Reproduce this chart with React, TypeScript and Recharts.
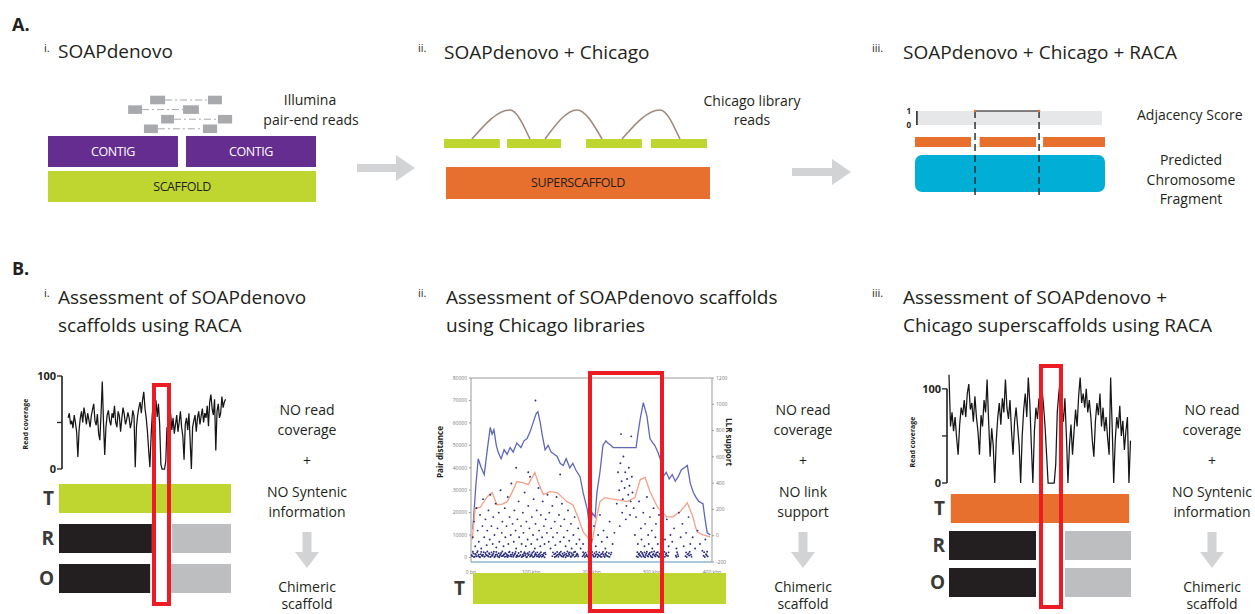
import React from "react";
import {
  Bar,
  BarChart,
  Cell,
  ComposedChart,
  Line,
  LineChart,
  ReferenceArea,
  ReferenceLine,
  Scatter,
  XAxis,
  YAxis,
} from "recharts";

const FONT = '"Open Sans", "Noto Sans", sans-serif';
const INK = "#231f20";
const PURPLE = "#662d91";
const LIME = "#bfd630";
const ORANGE = "#e8702f";
const CYAN = "#00aed6";
const BLACK_BAR = "#231f20";
const GREY_BAR = "#bcbec0";
const READ_GREY = "#a7a9ac";
const ARROW = "#d1d3d4";
const RED = "#ed1c24";
const NAVY = "#2b2e7a";

// ---------- A.i  SOAPdenovo (positions in % of scaffold length) ----------
const contigsA1: [number, number][] = [
  [0, 48.5],
  [51.5, 100],
];
const readPairsA1 = [
  { lane: 1, left: [38.1, 43.7], right: [59.7, 64.9] },
  { lane: 2, left: [29.9, 35.1], right: [50.4, 56.3] },
  { lane: 3, left: [42.2, 47.0], right: [63.4, 68.7] },
  { lane: 4, left: [35.8, 41.0], right: [57.8, 63.1] },
];

// ---------- A.ii  SOAPdenovo + Chicago ----------
const scaffoldsA2: [number, number][] = [
  [0, 21],
  [23.7, 44],
  [53.4, 74.4],
  [77.8, 98.9],
];
const superscaffoldA2: [number, number] = [0.75, 100];
const chicagoLinksA2 = [
  { from: 10.5, peak: 24.8, to: 32.3 },
  { from: 38.0, peak: 50.0, to: 59.4 },
  { from: 66.9, peak: 81.2, to: 88.7 },
];

// ---------- A.iii  SOAPdenovo + Chicago + RACA ----------
const breaksA3 = [31.6, 65.3];
const segmentsA3: [number, number][] = [
  [0, 29.5],
  [34, 63.7],
  [67.4, 100],
];
const adjacencyA3 = [
  { x: 31.6, y: 1 },
  { x: 65.3, y: 1 },
];

// ---------- B.i  read coverage along a SOAPdenovo scaffold ----------
const coverageB1 = [
  55, 60, 48, 52, 44, 58, 50, 40, 13,
  42, 55, 62, 50, 66, 58, 48, 60, 53, 45, 57, 64, 70, 52, 47, 59, 38,
  31, 60, 94,
  50, 15, 45,
  58, 63, 52, 47, 60, 55, 68, 50, 45, 62, 57, 40, 54, 66, 59, 48, 53, 61, 55, 44, 50, 63, 57,
  2,
  45, 58, 66, 72, 60, 74, 83, 65, 55,
  40, 20, 2, 35,
  60, 68, 62, 74, 56, 70, 48,
  5, 0, 0, 0, 8,
  45, 30, 52, 60, 42, 55, 38, 48, 58, 40, 50, 62, 45, 35, 10,
  48, 55, 42, 60, 30, 0,
  45, 52, 58, 40, 55, 62, 48, 57, 65, 50, 60, 55, 68, 46,
  72, 80, 65, 58, 75, 20, 62, 70, 55, 60, 78, 66, 72, 75,
];
const tracksB1 = [
  { track: "T", lead: 0, first: 100, gap: 0, second: 0 },
  { track: "R", lead: 0, first: 54, gap: 11.7, second: 34.3 },
  { track: "O", lead: 0, first: 53, gap: 12, second: 35 },
];

// ---------- B.ii  Chicago link support (x in kbp) ----------
const pairDistanceB2: [number, number][] = [
  [3, 12500], [8, 32000], [12, 44000], [17, 40000], [22, 37000], [27, 48000],
  [32, 58000], [35, 55000], [38, 57000], [42, 50000], [45, 47000], [50, 44000],
  [55, 48000], [60, 46000], [65, 49000], [70, 47000], [76, 51000], [83, 49000],
  [88, 52000], [93, 53000], [98, 56000], [103, 60000], [108, 64000], [111, 65000],
  [115, 60000], [118, 55000], [123, 48000], [128, 50000], [133, 47000], [138, 46000],
  [143, 45000], [148, 42000], [153, 41000], [158, 44000], [164, 40000], [169, 42000],
  [174, 39000], [181, 36000], [186, 29000], [193, 21500], [198, 10800], [201, 20000],
  [206, 18000], [209, 29000], [214, 38000], [219, 50000], [224, 52000], [227, 51000],
  [232, 50000], [236, 49000], [244, 49000], [254, 49000], [264, 49000], [274, 49000],
  [277, 55000], [281, 62000], [286, 69000], [289, 66000], [292, 63000], [297, 53000],
  [302, 51000], [305, 50000], [310, 47000], [314, 44000], [319, 36000], [324, 38000],
  [329, 35000], [334, 37000], [339, 34000], [344, 36000], [349, 39000], [354, 40000],
  [359, 41000], [364, 33000], [369, 29000], [373, 27000], [378, 25000], [385, 24000],
  [388, 18000], [392, 11000], [397, 10000],
];
const llrSupportB2: [number, number][] = [
  [2, -30], [7, 213], [15, 213], [20, 250], [27, 297], [35, 328], [43, 236],
  [52, 240], [60, 259], [68, 328], [76, 412], [86, 404], [95, 389], [101, 440],
  [106, 481], [111, 412], [120, 313], [131, 336], [143, 328], [152, 290],
  [159, 259], [169, 236], [178, 137], [186, 30], [194, -16], [201, -47],
  [206, 83], [214, 259], [222, 290], [232, 280], [242, 274], [259, 259],
  [272, 290], [281, 427], [289, 443], [297, 336], [310, 213], [325, 144],
  [335, 144], [347, 183], [359, 251], [367, 160], [375, 30], [385, 7], [397, -8],
];
const pairDotsB2: [number, number][] = [
  // near-zero band
  [2, 600], [4, 1800], [6, 400], [8, 1200], [10, 2200], [12, 700], [14, 300], [16, 1500],
  [18, 900], [21, 2400], [23, 500], [25, 1300], [28, 800], [30, 1900], [33, 400], [35, 1100],
  [38, 2600], [40, 600], [43, 1400], [45, 300], [48, 900], [50, 2000], [53, 700], [55, 1500],
  [58, 400], [60, 1000], [63, 2300], [65, 600], [68, 1200], [70, 300], [73, 1700], [76, 800],
  [78, 400], [82, 1100], [85, 500], [88, 1800], [90, 900], [93, 300], [96, 1400], [99, 700],
  [102, 2100], [105, 400], [108, 1200], [111, 600], [114, 1700], [117, 300], [120, 1000],
  [123, 2200], [135, 600], [138, 1500], [141, 400], [144, 1100], [147, 2000], [150, 700],
  [153, 300], [156, 1300], [159, 800], [162, 1900], [165, 500], [168, 1000], [171, 2400],
  [174, 600], [177, 1200], [185, 500], [188, 1600], [191, 800], [194, 300], [197, 1200],
  [200, 2100], [203, 700], [206, 400], [209, 1500], [212, 900], [215, 300], [218, 1800],
  [221, 600], [224, 1100], [228, 400], [232, 1300], [275, 500], [278, 1400], [281, 800],
  [284, 2000], [287, 400], [290, 1100], [293, 700], [296, 1700], [299, 300], [302, 1200],
  [305, 900], [308, 2200], [311, 500], [314, 1000], [317, 1600], [320, 400], [323, 1300],
  [327, 700], [340, 800], [343, 1500], [356, 600], [359, 1400], [362, 900], [366, 300],
  [386, 800], [390, 1500], [393, 500],
  [1, 1000], [3, 2600], [5, 200], [7, 1600], [9, 500], [11, 2800], [13, 1300], [15, 100],
  [17, 2500], [19, 700], [20, 1200], [22, 300], [24, 2000], [26, 1000], [27, 2700], [29, 400],
  [31, 1500], [32, 200], [34, 2300], [36, 800], [37, 1700], [39, 150], [41, 1200], [42, 2500],
  [44, 700], [46, 1900], [47, 100], [49, 1400], [51, 600], [52, 2700], [54, 1100], [56, 300],
  [57, 2000], [59, 1500], [61, 200], [62, 900], [64, 2600], [66, 1300], [67, 400], [69, 2100],
  [71, 800], [72, 1400], [74, 2500], [75, 200], [77, 1000], [79, 2000], [80, 600], [83, 2600],
  [84, 200], [86, 1300], [87, 700], [89, 2400], [91, 1600], [92, 100], [94, 1900], [95, 1100],
  [97, 2500], [98, 400], [100, 1500], [101, 900], [103, 200], [104, 2700], [106, 1100],
  [107, 1900], [109, 500], [110, 2300], [112, 1200], [113, 200], [115, 800], [116, 2400],
  [118, 1300], [119, 600], [121, 1900], [122, 150], [124, 1400], [136, 2300], [139, 200],
  [140, 1800], [142, 900], [143, 2500], [145, 300], [146, 1500], [148, 1100], [149, 2600],
  [151, 500], [152, 1700], [154, 900], [155, 2200], [157, 150], [158, 1600], [160, 2700],
  [161, 700], [163, 1200], [164, 2300], [166, 200], [167, 1900], [169, 900], [170, 1400],
  [172, 300], [173, 2600], [175, 1100], [176, 1700], [178, 500], [186, 2400], [187, 1000],
  [189, 200], [190, 2200], [192, 1400], [193, 600], [195, 2600], [196, 1800], [198, 100],
  [199, 900], [201, 2500], [202, 1300], [204, 300], [205, 1900], [207, 1100], [208, 2600],
  [210, 200], [211, 1400], [213, 2300], [214, 800], [216, 1500], [217, 300], [219, 2500],
  [220, 1200], [222, 200], [223, 1700], [225, 2400], [226, 700], [229, 1900], [230, 300],
  [233, 2200], [276, 2400], [277, 200], [279, 1800], [280, 1000], [282, 2600], [283, 300],
  [285, 1500], [286, 900], [288, 2300], [289, 100], [291, 1800], [292, 2600], [294, 400],
  [295, 1400], [297, 2200], [298, 800], [300, 2500], [301, 100], [303, 1600], [304, 2700],
  [306, 400], [307, 1500], [309, 900], [310, 2400], [312, 200], [313, 1700], [315, 2600],
  [316, 700], [318, 2000], [319, 1100], [321, 2500], [322, 300], [324, 1900], [325, 900],
  [328, 2300], [341, 200], [342, 2400], [344, 600], [357, 2300], [358, 200], [361, 1800],
  [363, 2600], [365, 1200], [387, 2400], [388, 200], [391, 1000], [392, 2600],
  // first block
  [3, 9000], [5, 16000], [7, 5000], [9, 22000], [11, 12000], [13, 7000], [15, 19000],
  [17, 4000], [19, 14000], [20, 26000], [22, 9000], [24, 17000], [26, 5500], [27, 12000],
  [29, 21000], [31, 8000], [32, 28000], [34, 14000], [36, 6000], [37, 18000], [39, 10000],
  [41, 24000], [42, 4500], [44, 13000], [46, 20000], [47, 7000], [49, 30000], [51, 11000],
  [52, 16000], [54, 5000], [56, 22000], [57, 9000], [59, 14000], [61, 27000], [62, 6000],
  [64, 18000], [66, 10000], [67, 33000], [69, 15000], [71, 7000], [72, 21000], [74, 12000],
  [75, 4000], [77, 17000], [79, 25000], [80, 9000], [83, 14000], [84, 6000], [86, 20000],
  [87, 11000], [89, 29000], [91, 5000], [92, 16000], [94, 8000], [95, 23000], [97, 13000],
  [98, 36000], [100, 6000], [101, 18000], [103, 10000], [104, 26000], [106, 4000],
  [107, 15000], [109, 21000], [110, 8000], [112, 31000], [113, 12000], [115, 5000],
  [116, 19000], [118, 9000], [119, 25000], [121, 14000], [122, 6000], [124, 17000],
  [126, 11000], [127, 28000], [129, 7000], [130, 20000], [132, 4000], [133, 13000],
  [135, 23000], [136, 9000], [139, 16000], [140, 5500], [142, 27000], [143, 11000],
  [146, 19000], [148, 7000], [149, 14000], [151, 24000], [154, 9000], [155, 17000],
  [157, 5000], [160, 12000], [161, 21000], [163, 7500], [166, 15000], [167, 4000],
  [170, 10000], [172, 18000], [175, 6000], [178, 13000], [180, 8000], [182, 4000],
  [186, 6000], [107, 70000], [75, 40000], [95, 38000], [148, 37000],
  // second block
  [249, 55000], [266, 54000], [244, 38000], [246, 30000], [248, 42000], [250, 34000],
  [252, 26000], [253, 45000], [255, 31000], [256, 38000], [258, 23000], [259, 35000],
  [261, 28000], [262, 40000], [263, 32000], [265, 25000], [267, 36000], [268, 29000],
  [270, 22000], [251, 20000], [257, 17000], [264, 19000], [242, 24000], [247, 14000],
  [200, 8000], [204, 14000], [207, 5000], [211, 10000], [214, 19000], [217, 7000],
  [220, 12000], [223, 4000], [226, 9000], [230, 16000], [235, 6000], [238, 11000],
  // third block
  [272, 10000], [274, 18000], [277, 6000], [279, 25000], [282, 13000], [283, 8000],
  [286, 20000], [288, 5000], [289, 15000], [292, 27000], [294, 10000], [295, 6000],
  [297, 18000], [300, 12000], [301, 4000], [303, 22000], [306, 9000], [307, 15000],
  [310, 6000], [312, 19000], [315, 11000], [316, 4500], [319, 14000], [322, 8000],
  [325, 17000], [328, 5000], [331, 10000],
  // tail
  [334, 7000], [337, 13000], [341, 4000], [345, 20000], [348, 9000], [351, 15000],
  [353, 5000], [357, 11000], [361, 18000], [364, 6000], [368, 9000], [372, 4000],
  [376, 12000], [380, 6000], [384, 3000], [389, 8000],
];
const distTicksB2 = [0, 10000, 20000, 30000, 40000, 50000, 60000, 70000, 80000];
const llrTicksB2 = [-200, 0, 200, 400, 600, 800, 1000, 1200];
const posTicksB2 = [0, 100, 200, 300, 400];
const tracksB2 = [{ track: "T", lead: 0, first: 100, gap: 0, second: 0 }];

// ---------- B.iii  read coverage along a superscaffold ----------
const coverageB3 = [
  115, 60, 75, 55, 70, 48, 30, 62, 80, 72, 88, 70, 95, 105, 78, 85, 65, 92, 70, 55,
  30, 72, 60, 88, 75, 110, 65, 28, 58, 40, 0, 45, 70, 85, 62, 90, 75, 110, 80, 68,
  88, 55, 30, 65, 80, 60, 40, 0, 50, 78, 95, 70, 112, 85, 40, 0, 55, 80, 68, 90,
  75, 100, 82, 60, 30, 0, 0, 0, 0, 0, 20, 75, 95, 110, 80, 65, 90, 50, 0, 40,
  62, 30, 55, 78, 60, 92, 112, 85, 95, 80, 100, 75, 88, 70, 45, 28, 65, 85, 72, 95,
  60, 80, 55, 70, 48, 30, 112, 60, 0, 45, 70, 58, 82, 50, 66, 35, 55, 70, 0, 45,
];
const tracksB3 = [
  { track: "T", lead: 1, first: 98, gap: 0, second: 0 },
  { track: "R", lead: 0, first: 47.8, gap: 15.9, second: 36.3 },
  { track: "O", lead: 0, first: 47.8, gap: 15.9, second: 36.3 },
];

const verdicts = [
  { cx: 307, evidence: ["NO read", "coverage", "+", "NO Syntenic", "information"] },
  { cx: 803, evidence: ["NO read", "coverage", "+", "NO link", "support"] },
  { cx: 1212, evidence: ["NO read", "coverage", "+", "NO Syntenic", "information"] },
];
const EVIDENCE_Y = [410, 430, 461, 492, 512];

type TxtProps = {
  x: number;
  y: number;
  size?: number;
  weight?: number;
  anchor?: "start" | "middle";
  rotate?: number;
  color?: string;
  children: React.ReactNode;
};

function Txt({ x, y, size = 14, weight = 400, anchor = "start", rotate = 0, color = INK, children }: TxtProps) {
  const tx = anchor === "middle" || rotate !== 0 ? "-50%" : "0";
  return (
    <div
      style={{
        position: "absolute",
        left: x,
        top: y,
        transform: `translate(${tx}, -50%) rotate(${rotate}deg)`,
        fontSize: size,
        fontWeight: weight,
        color,
        lineHeight: 1,
        whiteSpace: "nowrap",
      }}
    >
      {children}
    </div>
  );
}

function HArrow({ x, y, len }: { x: number; y: number; len: number }) {
  return (
    <svg style={{ position: "absolute", left: x, top: y - 14 }} width={len} height={28}>
      <rect x={0} y={10} width={len - 17} height={8} fill={ARROW} />
      <polygon points={`${len - 19},1 ${len},14 ${len - 19},27`} fill={ARROW} />
    </svg>
  );
}

function DownArrow({ cx, top }: { cx: number; top: number }) {
  return (
    <svg style={{ position: "absolute", left: cx - 12, top }} width={24} height={37}>
      <rect x={7.5} y={0} width={9} height={22} fill={ARROW} />
      <polygon points="0,20 24,20 12,36" fill={ARROW} />
    </svg>
  );
}

function RedBox({ left, top, width, height }: { left: number; top: number; width: number; height: number }) {
  return (
    <div
      style={{
        position: "absolute",
        left,
        top,
        width,
        height,
        border: `4px solid ${RED}`,
        boxSizing: "border-box",
      }}
    />
  );
}

const blockLabel = (value: string, fill: string) => ({
  value,
  position: "center" as const,
  fill,
  fontSize: 12.5,
  letterSpacing: -0.4,
});

function PanelA1() {
  const laneY = (lane: number) => 114.6 - lane * 9.6;
  return (
    <div style={{ position: "absolute", left: 48, top: 95 }}>
      <ComposedChart width={268} height={110} margin={{ top: 0, right: 0, bottom: 0, left: 0 }}>
        <XAxis type="number" dataKey="x" domain={[0, 100]} hide />
        <YAxis type="number" dataKey="y" domain={[0, 110]} hide />
        <ReferenceArea x1={0} x2={100} y1={3} y2={34} fill={LIME} fillOpacity={1} label={blockLabel("SCAFFOLD", INK)} />
        {contigsA1.map(([a, b], k) => (
          <ReferenceArea key={`c${k}`} x1={a} x2={b} y1={38} y2={69} fill={PURPLE} fillOpacity={1} label={blockLabel("CONTIG", "#ffffff")} />
        ))}
        {readPairsA1.map((p, k) => (
          <ReferenceArea key={`l${k}`} x1={p.left[0]} x2={p.left[1]} y1={laneY(p.lane) - 4.3} y2={laneY(p.lane) + 4.3} fill={READ_GREY} fillOpacity={1} />
        ))}
        {readPairsA1.map((p, k) => (
          <ReferenceArea key={`r${k}`} x1={p.right[0]} x2={p.right[1]} y1={laneY(p.lane) - 4.3} y2={laneY(p.lane) + 4.3} fill={READ_GREY} fillOpacity={1} />
        ))}
        {readPairsA1.map((p, k) => (
          <Line
            key={`j${k}`}
            data={[
              { x: p.left[1], y: laneY(p.lane) },
              { x: p.right[0], y: laneY(p.lane) },
            ]}
            dataKey="y"
            stroke={READ_GREY}
            strokeWidth={1}
            strokeDasharray="7 3 2 3"
            dot={false}
            isAnimationActive={false}
          />
        ))}
      </ComposedChart>
    </div>
  );
}

function PanelA2() {
  return (
    <div style={{ position: "absolute", left: 444, top: 100 }}>
      <ComposedChart width={266} height={105} margin={{ top: 0, right: 0, bottom: 0, left: 0 }}>
        <XAxis type="number" dataKey="x" domain={[0, 100]} hide />
        <YAxis type="number" dataKey="y" domain={[0, 105]} hide />
        <ReferenceArea
          x1={superscaffoldA2[0]}
          x2={superscaffoldA2[1]}
          y1={6}
          y2={38}
          fill={ORANGE}
          fillOpacity={1}
          label={blockLabel("SUPERSCAFFOLD", INK)}
        />
        {scaffoldsA2.map(([a, b], k) => (
          <ReferenceArea key={`s${k}`} x1={a} x2={b} y1={57} y2={66} fill={LIME} fillOpacity={1} />
        ))}
        {chicagoLinksA2.map((l, k) => (
          <Line
            key={`a${k}`}
            data={[
              { x: l.from, y: 66 },
              { x: l.peak, y: 95 },
              { x: l.to, y: 66 },
            ]}
            dataKey="y"
            type="monotone"
            stroke="#a08a7e"
            strokeWidth={1.6}
            dot={false}
            isAnimationActive={false}
          />
        ))}
      </ComposedChart>
    </div>
  );
}

function PanelA3() {
  return (
    <div style={{ position: "absolute", left: 895, top: 100 }}>
      <ComposedChart width={215} height={100} margin={{ top: 0, right: 5, bottom: 0, left: 8 }}>
        <XAxis type="number" dataKey="x" domain={[0, 100]} hide />
        <YAxis yAxisId="trk" type="number" dataKey="y" domain={[0, 100]} hide />
        <YAxis
          yAxisId="score"
          type="number"
          dataKey="y"
          domain={[-5.357, 1.786]}
          ticks={[0, 1]}
          interval={0}
          width={12}
          axisLine={false}
          tickLine={false}
          tickSize={0}
          tickMargin={4}
          tick={{ fontSize: 8, fontWeight: 700, fill: INK }}
        />
        <ReferenceArea yAxisId="trk" x1={0.5} x2={98.4} y1={75} y2={89} fill="#e6e7e8" fillOpacity={1} />
        {segmentsA3.map(([a, b], k) => (
          <ReferenceArea key={`o${k}`} yAxisId="trk" x1={a} x2={b} y1={53} y2={63} fill={ORANGE} fillOpacity={1} />
        ))}
        <ReferenceArea
          yAxisId="trk"
          x1={0}
          x2={100}
          y1={8}
          y2={45}
          fill={CYAN}
          fillOpacity={1}
          shape={(p: any) => <rect x={p.x} y={p.y} width={p.width} height={p.height} rx={7} fill={CYAN} />}
        />
        <ReferenceLine
          yAxisId="score"
          segment={[
            { x: 1, y: 0 },
            { x: 1, y: 1 },
          ]}
          stroke={INK}
          strokeWidth={1.5}
        />
        {breaksA3.map((b, k) => (
          <Line
            key={`b${k}`}
            yAxisId="trk"
            data={[
              { x: b, y: 89 },
              { x: b, y: 2 },
            ]}
            dataKey="y"
            type="linear"
            stroke="#333333"
            strokeWidth={1.5}
            strokeDasharray="7 4"
            dot={false}
            isAnimationActive={false}
          />
        ))}
        <Line
          yAxisId="score"
          data={adjacencyA3}
          dataKey="y"
          stroke="#58595b"
          strokeWidth={1.5}
          dot={{ r: 1.3, fill: ORANGE, stroke: "none" }}
          isAnimationActive={false}
        />
      </ComposedChart>
    </div>
  );
}

type CoverageProps = {
  values: number[];
  left: number;
  top: number;
  width: number;
  height: number;
  axisWidth: number;
  xDomain: [number, number];
  yMax: number;
};

function CoverageChart({ values, left, top, width, height, axisWidth, xDomain, yMax }: CoverageProps) {
  const rows = values.map((v, i) => ({ i, v }));
  return (
    <div style={{ position: "absolute", left, top }}>
      <LineChart width={width} height={height} data={rows} margin={{ top: 10, right: 0, bottom: 12, left: 22 }}>
        <XAxis type="number" dataKey="i" domain={xDomain} hide />
        <YAxis
          type="number"
          domain={[0, yMax]}
          ticks={[0, 50, 100]}
          interval={0}
          width={axisWidth}
          axisLine={false}
          tickLine={{ stroke: INK, strokeWidth: 1.3 }}
          tickSize={5}
          tickMargin={1}
          tick={(p: any) =>
            p.payload.value === 50 ? (
              <g />
            ) : (
              <text x={p.x} y={p.y} dy="0.36em" textAnchor="end" fontSize={11} fontWeight={700} fill={INK}>
                {p.payload.value}
              </text>
            )
          }
        />
        <ReferenceLine
          segment={[
            { x: xDomain[0], y: 0 },
            { x: xDomain[0], y: 100 },
          ]}
          stroke={INK}
          strokeWidth={1.6}
        />
        <Line dataKey="v" type="linear" stroke="#161616" strokeWidth={1.25} dot={false} isAnimationActive={false} />
      </LineChart>
    </div>
  );
}

type TrackRow = { track: string; lead: number; first: number; gap: number; second: number };
type TrackProps = {
  rows: TrackRow[];
  tColor: string;
  left: number;
  top: number;
  width: number;
  height: number;
  axisWidth: number;
  barSize: number;
  gap: number;
};

function TrackChart({ rows, tColor, left, top, width, height, axisWidth, barSize, gap }: TrackProps) {
  return (
    <div style={{ position: "absolute", left, top }}>
      <BarChart layout="vertical" width={width} height={height} data={rows} margin={{ top: 0, right: 0, bottom: 0, left: 0 }}>
        <XAxis type="number" domain={[0, 100]} hide />
        <YAxis
          type="category"
          dataKey="track"
          width={axisWidth}
          axisLine={false}
          tickLine={false}
          tickSize={0}
          tickMargin={0}
          tick={(p: any) => (
            <text x={p.x - gap} y={p.y} dy="0.36em" textAnchor="end" fontSize={19} fontWeight={700} fill="#3a3a3a">
              {p.payload.value}
            </text>
          )}
        />
        <Bar dataKey="lead" stackId="t" fill="transparent" barSize={barSize} isAnimationActive={false} />
        <Bar dataKey="first" stackId="t" barSize={barSize} isAnimationActive={false}>
          {rows.map((r) => (
            <Cell key={r.track} fill={r.track === "T" ? tColor : BLACK_BAR} />
          ))}
        </Bar>
        <Bar dataKey="gap" stackId="t" fill="transparent" barSize={barSize} isAnimationActive={false} />
        <Bar dataKey="second" stackId="t" fill={GREY_BAR} barSize={barSize} isAnimationActive={false} />
      </BarChart>
    </div>
  );
}

function LinkChart() {
  const toRows = (pts: [number, number][]) => pts.map(([x, y]) => ({ x, y }));
  const frame = "#9a9a9a";
  const tick = { fontSize: 5, fill: "#777777" };
  return (
    <div style={{ position: "absolute", left: 430, top: 368 }}>
      <ComposedChart width={320} height={210} margin={{ top: 10, right: 16, bottom: 4, left: 11 }}>
        <XAxis
          type="number"
          dataKey="x"
          domain={[0, 400]}
          ticks={posTicksB2}
          interval={0}
          height={12}
          axisLine={{ stroke: "#a9c8e2", strokeWidth: 2.2 }}
          tickLine={false}
          tickMargin={2}
          tick={tick}
          tickFormatter={(v: number) => (v === 0 ? "0 bp" : `${v} kbp`)}
        />
        <YAxis
          yAxisId="dist"
          type="number"
          dataKey="y"
          domain={[-2000, 80000]}
          ticks={distTicksB2}
          interval={0}
          width={30}
          axisLine={{ stroke: frame }}
          tickLine={{ stroke: frame }}
          tickSize={2}
          tickMargin={2}
          tick={tick}
        />
        <YAxis
          yAxisId="llr"
          orientation="right"
          type="number"
          dataKey="y"
          domain={[-200, 1200]}
          ticks={llrTicksB2}
          interval={0}
          width={22}
          axisLine={{ stroke: frame }}
          tickLine={{ stroke: frame }}
          tickSize={2}
          tickMargin={2}
          tick={tick}
        />
        <ReferenceLine yAxisId="dist" y={80000} stroke={frame} />
        <Scatter
          yAxisId="dist"
          data={toRows(pairDotsB2)}
          dataKey="y"
          isAnimationActive={false}
          shape={(p: any) => <circle cx={p.cx} cy={p.cy} r={0.95} fill={NAVY} />}
        />
        <Line
          yAxisId="dist"
          data={toRows(pairDistanceB2)}
          dataKey="y"
          type="linear"
          stroke="#5f67b9"
          strokeWidth={1.3}
          dot={false}
          isAnimationActive={false}
        />
        <Line
          yAxisId="llr"
          data={toRows(llrSupportB2)}
          dataKey="y"
          type="linear"
          stroke="#f3a088"
          strokeWidth={1.3}
          dot={false}
          isAnimationActive={false}
        />
      </ComposedChart>
    </div>
  );
}

export default function App() {
  return (
    <div
      style={{
        position: "fixed",
        left: 0,
        top: 0,
        width: 1255,
        height: 614,
        background: "#ffffff",
        overflow: "hidden",
        fontFamily: FONT,
        color: INK,
      }}
    >
      {/* ---------------- A ---------------- */}
      <Txt x={12} y={24} size={18} weight={700}>A.</Txt>
      <Txt x={44} y={47} size={11}>i.</Txt>
      <Txt x={58} y={51} size={19}>SOAPdenovo</Txt>
      <Txt x={418} y={47} size={11}>ii.</Txt>
      <Txt x={444} y={52} size={19}>SOAPdenovo + Chicago</Txt>
      <Txt x={872} y={47} size={11}>iii.</Txt>
      <Txt x={903} y={52} size={19}>SOAPdenovo + Chicago + RACA</Txt>

      <Txt x={310} y={100} size={14} anchor="middle">Illumina</Txt>
      <Txt x={311} y={120} size={14} anchor="middle">pair-end reads</Txt>
      <Txt x={752} y={101} size={14} anchor="middle">Chicago library</Txt>
      <Txt x={752} y={120} size={14} anchor="middle">reads</Txt>
      <Txt x={1137} y={115} size={14}>Adjacency Score</Txt>
      <Txt x={1191} y={160} size={14} anchor="middle">Predicted</Txt>
      <Txt x={1191} y={180} size={14} anchor="middle">Chromosome</Txt>
      <Txt x={1191} y={199} size={14} anchor="middle">Fragment</Txt>

      <PanelA1 />
      <PanelA2 />
      <PanelA3 />
      <HArrow x={357} y={168} len={58} />
      <HArrow x={792} y={172} len={59} />

      {/* ---------------- B ---------------- */}
      <Txt x={12} y={268} size={18} weight={700}>B.</Txt>
      <Txt x={44} y={292} size={11}>i.</Txt>
      <Txt x={58} y={297} size={19}>Assessment of SOAPdenovo</Txt>
      <Txt x={58} y={325} size={19}>scaffolds using RACA</Txt>
      <Txt x={418} y={292} size={11}>ii.</Txt>
      <Txt x={446} y={297} size={19}>Assessment of SOAPdenovo scaffolds</Txt>
      <Txt x={446} y={325} size={19}>using Chicago libraries</Txt>
      <Txt x={872} y={292} size={11}>iii.</Txt>
      <Txt x={903} y={297} size={19}>Assessment of SOAPdenovo +</Txt>
      <Txt x={903} y={325} size={19}>Chicago superscaffolds using RACA</Txt>

      <CoverageChart values={coverageB1} left={0} top={366} width={228} height={115} axisWidth={40} xDomain={[-5, 131]} yMax={100} />
      <Txt x={25} y={424} size={7} weight={700} rotate={-90}>Read coverage</Txt>
      <TrackChart rows={tracksB1} tColor={LIME} left={20} top={478} width={211} height={120} axisWidth={39} barSize={29} gap={5} />

      <LinkChart />
      <Txt x={440} y={452} size={8} weight={700} rotate={-90}>Pair distance</Txt>
      <Txt x={729} y={442} size={8} weight={700} rotate={90}>LLR support</Txt>
      <TrackChart rows={tracksB2} tColor={LIME} left={448} top={572} width={278} height={32} axisWidth={25} barSize={31} gap={8} />

      <CoverageChart values={coverageB3} left={880} top={360} width={252} height={135} axisWidth={45} xDomain={[-1.3, 120]} yMax={120} />
      <Txt x={912} y={442} size={7} weight={700} rotate={-90}>Read coverage</Txt>
      <TrackChart rows={tracksB3} tColor={ORANGE} left={900} top={490} width={231} height={111} axisWidth={49} barSize={29} gap={4} />

      <RedBox left={152} top={383} width={19} height={223} />
      <RedBox left={588} top={371} width={76} height={242} />
      <RedBox left={1039} top={364} width={24} height={245} />

      {verdicts.map((v) => (
        <React.Fragment key={v.cx}>
          {v.evidence.map((line, k) => (
            <Txt key={k} x={v.cx} y={EVIDENCE_Y[k]} size={14} anchor="middle">
              {line}
            </Txt>
          ))}
          <DownArrow cx={v.cx} top={532} />
          <Txt x={v.cx} y={587} size={14} anchor="middle">Chimeric</Txt>
          <Txt x={v.cx} y={604} size={14} anchor="middle">scaffold</Txt>
        </React.Fragment>
      ))}
    </div>
  );
}
